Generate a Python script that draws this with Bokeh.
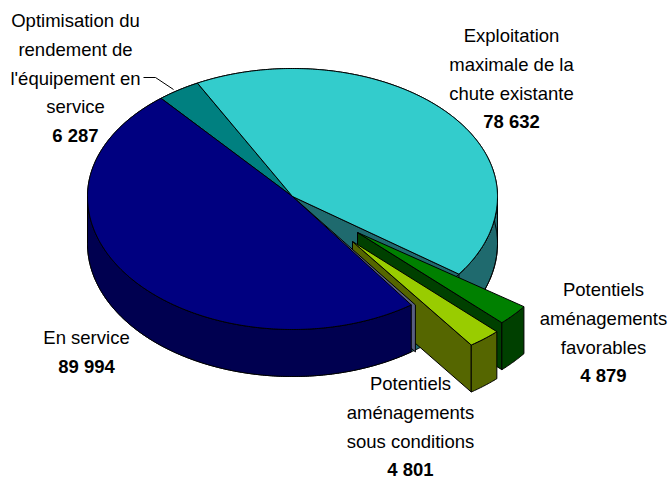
import numpy as np
from bokeh.plotting import figure
from bokeh.embed import file_html
from bokeh.resources import INLINE
from bokeh.core.properties import value

# --- data ---
categories = ["En service", "Optimisation du rendement de l'équipement en service",
              "Exploitation maximale de la chute existante",
              "Potentiels aménagements favorables",
              "Potentiels aménagements sous conditions"]
values = [89994, 6287, 78632, 4879, 4801]
top_colors = ["#000080", "#008080", "#33CCCC", "#008000", "#99CC00"]
wall_colors = ["#000050", "#005050", "#1F6A6E", "#004000", "#556600"]
label_lines = [["En service"],
               ["Optimisation du", "rendement de", "l'équipement en", "service"],
               ["Exploitation", "maximale de la", "chute existante"],
               ["Potentiels", "aménagements", "favorables"],
               ["Potentiels", "aménagements", "sous conditions"]]
label_x = [86, 75, 511, 603, 410]
label_y = [337, 20, 35, 289, 383]
line_step = 28.8

# --- projection ---
CX, CY, RX, RY_FRONT, RY_BACK, DEPTH = 292, 196, 205, 133, 128, 47
START = -54.6
offsets = {3: (65, 36), 4: (60, 45)}
EXPL_RY = 127

total = sum(values)
sweeps = [v / total * 360 for v in values]
edges = [START]
for s in sweeps:
    edges.append(edges[-1] - s)


def pt(a, idx=None):
    r = np.radians(a)
    c, s = np.cos(r), np.sin(r)
    if idx in offsets:
        ox, oy = offsets[idx]
        return CX + ox + RX * c, CY + oy - EXPL_RY * s
    ry = RY_FRONT if s < 0 else RY_BACK
    return CX + RX * c, CY - ry * s


def arc(a0, a1, idx=None):
    n = max(int(abs(a1 - a0)) * 2, 2)
    pts = [pt(a, idx) for a in np.linspace(a0, a1, n)]
    return [q[0] for q in pts], [q[1] for q in pts]


def centre(idx=None):
    ox, oy = offsets.get(idx, (0, 0))
    return CX + ox, CY + oy


p = figure(width=672, height=479, x_range=(0, 672), y_range=(479, 0),
           output_backend="svg", toolbar_location=None, min_border=0,
           outline_line_color=None, background_fill_color="white")
p.axis.visible = False
p.grid.visible = False


def poly(xs, ys, col):
    p.patch(xs, ys, fill_color=col, line_color="black", line_width=1)


def top(i):
    x, y = arc(edges[i], edges[i + 1], i if i in offsets else None)
    cx, cy = centre(i)
    poly([cx] + x, [cy] + y, top_colors[i])


def outer_wall(i, a0, a1):
    x, y = arc(a0, a1, i if i in offsets else None)
    poly(x + x[::-1], y + [v + DEPTH for v in y[::-1]], wall_colors[i])


def cut_wall(i, a, col, spread=1.0):
    cx, cy = centre(i)
    ex, ey = pt(a, i if i in offsets else None)
    bx = cx + (ex - cx) * spread
    poly([cx, bx, bx, cx], [cy, ey, ey + DEPTH, cy + DEPTH], col)


# main pie, far side
cut_wall(2, edges[3], wall_colors[2])
outer_wall(2, edges[3], 0)
top(1)
top(2)

# exploded slices
cut_wall(3, edges[4], wall_colors[3])
outer_wall(3, edges[3], edges[4])
top(3)
cut_wall(4, edges[5], wall_colors[4])
outer_wall(4, edges[4], edges[5])
top(4)

# main slice in front
cut_wall(0, edges[0], "#585E80", spread=1.035)
outer_wall(0, edges[0], -180)
top(0)

# leader line
p.line([143, 155, 173], [77, 77, 89], line_color="black", line_width=1)

# labels
FONT = value("Liberation Sans")
SIZE = "18.5px"
for i in range(5):
    lines = label_lines[i]
    ys = [label_y[i] + k * line_step for k in range(len(lines))]
    xs = [label_x[i]] * len(lines)
    p.text(xs, ys, text=lines, text_font=FONT, text_font_size=SIZE, text_color="black",
           text_align="center", text_baseline="middle")
    p.text([label_x[i]], [label_y[i] + len(lines) * line_step],
           text=[f"{values[i]:,}".replace(",", " ")], text_font=FONT, text_font_size=SIZE,
           text_font_style="bold", text_color="black",
           text_align="center", text_baseline="middle")

open("out.html", "w").write(file_html(p, INLINE))
